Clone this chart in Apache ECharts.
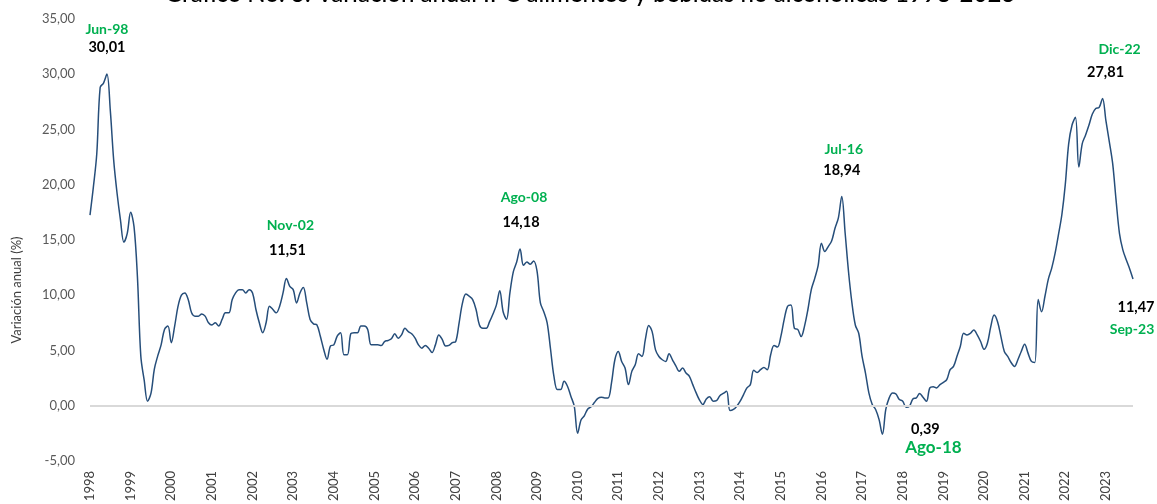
<!DOCTYPE html>
<html>
<head>
<meta charset="utf-8">
<script src="https://cdn.jsdelivr.net/npm/echarts@6/dist/echarts.min.js"></script>
<style>
html,body{margin:0;padding:0;background:#fff;}
#c{width:1157px;height:504px;}
</style>
</head>
<body>
<div id="c"></div>
<script>
// ---- data ----
const years = [1998,1999,2000,2001,2002,2003,2004,2005,2006,2007,2008,2009,2010,2011,2012,2013,2014,2015,2016,2017,2018,2019,2020,2021,2022,2023];
const monthNames = ['Ene','Feb','Mar','Abr','May','Jun','Jul','Ago','Sep','Oct','Nov','Dic'];
const values1998_2002 = [
  17.25,19.8,22.8,28.8,29.2,30.01,26.7,22.2,19.2,16.8,14.8,15.6,
  17.5,16.2,11.7,4.5,2.3,0.4,1.1,3.3,4.5,5.5,6.9,7.2,
  5.7,7.2,9.0,10.0,10.2,9.6,8.4,8.1,8.1,8.3,8.1,7.5,
  7.3,7.5,7.2,7.8,8.4,8.4,9.6,10.2,10.5,10.5,10.2,10.5,
  10.2,8.7,7.5,6.6,7.5,9.0,8.7,8.4,9.0,10.2,11.51,10.8
];
const values2003_2007 = [
  10.5,9.3,10.2,10.7,9.3,7.8,7.4,7.3,6.3,5.1,4.2,5.4,
  5.5,6.3,6.6,4.6,4.6,6.5,6.6,6.6,7.2,7.2,6.9,5.5,
  5.5,5.5,5.45,5.8,5.9,6.05,6.5,6.1,6.4,7.0,6.7,6.5,
  6.1,5.5,5.2,5.45,5.2,4.8,5.5,6.4,6.0,5.4,5.45,5.7,
  5.8,7.5,9.3,10.1,9.9,9.6,8.7,7.3,7.0,7.0,7.6,8.3
];
const values2008_2012 = [
  9.1,10.4,8.5,7.8,10.2,12.1,13.0,14.18,12.7,13.0,12.8,13.1,
  12.2,9.3,8.5,7.5,5.1,2.65,1.45,1.45,2.2,1.75,0.85,-0.05,
  -2.5,-1.3,-0.9,-0.3,-0.1,0.3,0.65,0.75,0.7,0.7,2.05,4.15,
  4.9,4.0,3.4,1.9,3.1,3.7,4.7,4.45,6.0,7.25,6.7,5.05,
  4.45,4.15,4.0,4.7,4.15,3.6,3.1,3.4,2.95,2.65,1.9,1.15
];
const values2013_2017 = [
  0.5,0.1,0.6,0.8,0.4,0.45,0.9,1.1,1.3,-0.45,-0.35,-0.05,
  0.4,1.0,1.6,1.9,3.2,3.0,3.25,3.45,3.25,4.6,5.45,5.3,
  6.25,7.8,9.0,9.1,7.0,6.9,6.25,7.2,8.7,10.5,11.5,12.65,
  14.7,13.95,14.4,14.9,16.05,17.0,18.94,15.6,12.1,9.3,7.3,6.55,
  4.45,2.95,1.15,0.1,-0.35,-1.25,-2.6,-0.35,0.7,1.15,1.05,0.55
];
const values2018_2023 = [
  0.4,-0.15,-0.05,0.6,0.7,1.1,0.75,0.39,1.6,1.7,1.6,1.9,
  2.1,2.35,3.25,3.55,4.45,5.35,6.55,6.4,6.55,6.85,6.4,5.8,
  5.1,5.65,7.15,8.2,7.6,6.25,4.9,4.45,3.9,3.55,4.15,4.9,
  5.55,4.75,4.0,3.9,9.6,8.5,9.9,11.45,12.45,13.8,15.5,17.3,
  20.0,23.7,25.4,26.1,21.6,23.7,24.5,25.4,26.4,26.9,27.0,27.81,
  25.8,23.9,21.9,18.6,15.6,14.1,13.2,12.4,11.47
];
const values = [].concat(values1998_2002, values2003_2007, values2008_2012, values2013_2017, values2018_2023);

// category labels (one per month)
const categories = [];
years.forEach(y => monthNames.forEach(m => categories.push(m + '-' + String(y).slice(2))));
categories.length = values.length;

// annotations: [category label, green text]
const annotations = [
  ['Jun-98', 'Jun-98'],
  ['Nov-02', 'Nov-02'],
  ['Ago-08', 'Ago-08'],
  ['Jul-16', 'Jul-16'],
  ['Ago-18', 'Ago-18'],
  ['Dic-22', 'Dic-22'],
  ['Sep-23', 'Sep-23']
];
const offsets = {
  'Jun-98': {g:[0,-45], b:[0,-27]},
  'Nov-02': {g:[4,-53], b:[1,-28]},
  'Ago-08': {g:[4,-51], b:[1,-27]},
  'Jul-16': {g:[2,-47], b:[0,-26]},
  'Ago-18': {g:[7,46], b:[-1,28]},
  'Dic-22': {g:[17,-49], b:[3,-26]},
  'Sep-23': {g:[-1,51], b:[3,28]}
};

const fmt = v => v.toFixed(2).replace('.', ',');
const FONT = 'Lato, "Open Sans", sans-serif';

const markData = [];
annotations.forEach(a => {
  const idx = categories.indexOf(a[0]);
  const v = values[idx];
  const o = offsets[a[0]];
  const big = a[0] === 'Ago-18';
  markData.push({
    coord: [idx, v], symbolSize: 0, value: a[1],
    label: {show: true, position: 'inside', offset: o.g, formatter: a[1],
      color: '#00B050', fontSize: big ? 17 : 14, fontWeight: 'bold', fontFamily: FONT}
  });
  markData.push({
    coord: [idx, v], symbolSize: 0, value: fmt(v),
    label: {show: true, position: 'inside', offset: o.b, formatter: fmt(v),
      color: '#000', fontSize: 14.5, fontWeight: 'bold', fontFamily: FONT}
  });
});

const chart = echarts.init(document.getElementById('c'), null, {renderer: 'canvas'});
chart.setOption({
  animation: false,
  backgroundColor: '#fff',
  grid: {left: 90, right: 24, top: 19, bottom: 43, containLabel: false},
  graphic: [
    {type: 'text', x: 590, y: -6,
      style: {text: 'Gráfico No. 3: Variación anual IPC alimentos y bebidas no alcohólicas 1998-2023',
        font: '500 24px ' + FONT, fill: '#000', align: 'center', verticalAlign: 'middle'}},
    {type: 'text', x: 17, y: 290, rotation: Math.PI / 2,
      style: {text: 'Variación anual (%)', font: '13px ' + FONT, fill: '#404040',
        align: 'center', verticalAlign: 'middle'}}
  ],
  xAxis: {
    type: 'category', data: categories, boundaryGap: false,
    axisLine: {show: false}, axisTick: {show: false}, splitLine: {show: false},
    axisLabel: {
      rotate: 90, margin: 10, color: '#404040', fontSize: 13, fontFamily: FONT,
      interval: i => i % 12 === 0,
      formatter: (val, i) => String(years[Math.floor(i / 12)])
    }
  },
  yAxis: {
    type: 'value', min: -5, max: 35, interval: 5,
    axisLine: {show: false}, axisTick: {show: false}, splitLine: {show: false},
    axisLabel: {color: '#595959', fontSize: 13, fontFamily: FONT, margin: 15,
      formatter: v => fmt(v)}
  },
  series: [{
    type: 'line', data: values, smooth: 0.35, showSymbol: false, symbol: 'none',
    lineStyle: {color: '#264E7A', width: 1.5},
    markLine: {silent: true, symbol: 'none', label: {show: false},
      lineStyle: {color: '#d9d9d9', width: 2, type: 'solid'},
      data: [{yAxis: 0}]},
    markPoint: {silent: true, symbol: 'circle', symbolSize: 0, data: markData},
    z: 3
  }]
});
</script>
</body>
</html>
